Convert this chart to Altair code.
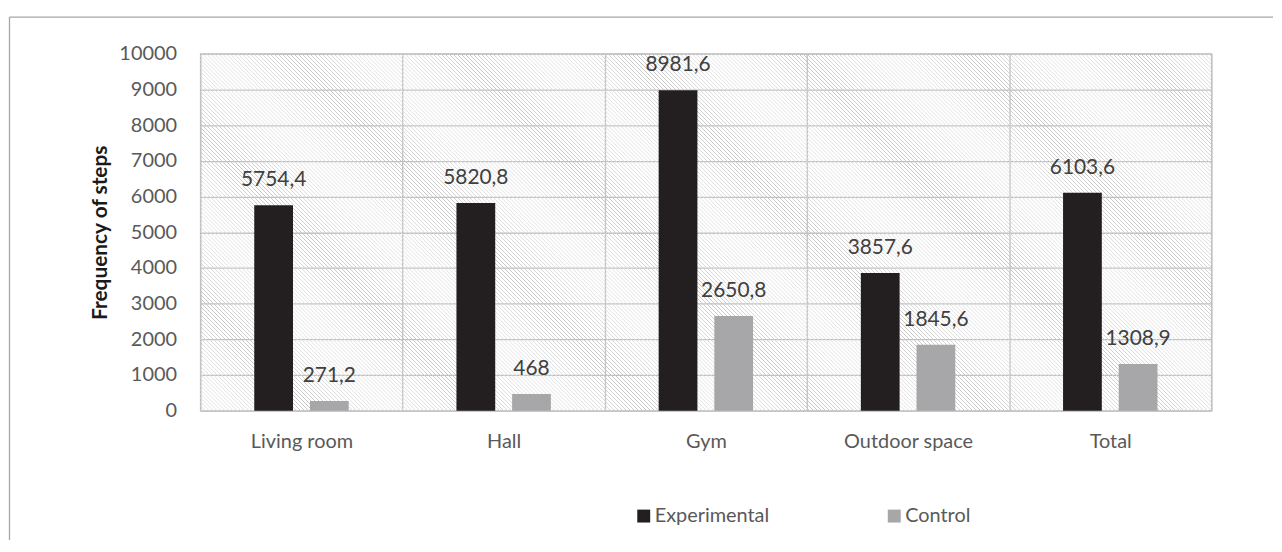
import altair as alt
import pandas as pd

categories = ["Living room", "Hall", "Gym", "Outdoor space", "Total"]
experimental = [5754.4, 5820.8, 8981.6, 3857.6, 6103.6]
control = [271.2, 468, 2650.8, 1845.6, 1308.9]
groups = ["Experimental", "Control"]
y_ticks = list(range(0, 10001, 1000))

W, H = 1017, 359

rows = []
for c, e, k in zip(categories, experimental, control):
    rows.append({"cat": c, "group": "Experimental", "value": e})
    rows.append({"cat": c, "group": "Control", "value": k})
df = pd.DataFrame(rows)
df["label"] = df["value"].map(lambda v: f"{v:g}".replace(".", ","))

# hatch pattern as a striped linear gradient ("\" diagonal lines), soft 1px stripes
T = W + H
kk = (W + H) / (W * W + H * H)
period = 4.0
stops = []
clear, gray = "rgba(255,255,255,0)", "#c6c6c6"
s = 0.0
while s + period <= T + 1e-9:
    stops += [alt.GradientStop(offset=round(s / T, 9), color=clear),
              alt.GradientStop(offset=round((s + 1.0) / T, 9), color=gray),
              alt.GradientStop(offset=round((s + 2.0) / T, 9), color=clear)]
    s += period
stops.append(alt.GradientStop(offset=1, color=clear))
grad = alt.LinearGradient(gradient="linear", x1=0, y1=1, x2=W * kk, y2=1 - H * kk, stops=stops)

one = pd.DataFrame({"a": [0]})
hatch = alt.Chart(one).mark_rect(fill=grad).encode(
    x=alt.value(0), x2=alt.value("width"), y=alt.value(0), y2=alt.value("height")
)

x_enc = alt.X("cat:N", sort=categories, title=None,
              scale=alt.Scale(paddingInner=0, paddingOuter=0),
              axis=alt.Axis(grid=True, tickBand="extent", ticks=False, domain=False,
                            labelAngle=0, labelFontSize=20, labelColor="#595959",
                            labelPadding=21, gridColor="#bfbfbf", gridWidth=1.3))
xoff = alt.XOffset("group:N", sort=groups,
                   scale=alt.Scale(domain=groups, paddingInner=0.3036, paddingOuter=0.968))
y_enc = alt.Y("value:Q", title="Frequency of steps",
              scale=alt.Scale(domain=[0, 10000], nice=False),
              axis=alt.Axis(values=y_ticks, format="d", ticks=False, domain=False,
                            labelOverlap=False,
                            labelFontSize=20, labelColor="#595959", labelPadding=24,
                            gridColor="#bfbfbf", gridWidth=1.3,
                            titleFontSize=21, titleFontWeight="bold", titleColor="#1a1a1a",
                            titlePadding=8))

base = alt.Chart(df)
bars = base.mark_bar().encode(
    x=x_enc, xOffset=xoff, y=y_enc,
    color=alt.Color("group:N", sort=groups,
                    scale=alt.Scale(domain=groups, range=["#231f20", "#a7a7a9"]),
                    legend=alt.Legend(title=None, orient="none", legendX=436, legendY=455,
                                      direction="horizontal", symbolType="square",
                                      symbolSize=169, symbolStrokeWidth=0,
                                      labelFontSize=20, labelColor="#595959",
                                      labelOffset=1, columnPadding=115)),
)
texts = base.mark_text(fontSize=21, color="#404040", baseline="middle", dy=-25).encode(
    x=x_enc, xOffset=xoff, y=y_enc, text="label:N",
)

border_left = alt.Chart(one).mark_rule(color="#a6a6a6", strokeWidth=1.3).encode(
    x=alt.value(-192), y=alt.value(-37), y2=alt.value(489)
)
border_top = alt.Chart(one).mark_rule(color="#a6a6a6", strokeWidth=1.3).encode(
    x=alt.value(-192), x2=alt.value(1079), y=alt.value(-37)
)

chart = alt.layer(hatch, bars, texts, border_left, border_top).properties(
    width=W, height=H,
    padding={"left": 0.5, "top": 6.5, "right": 0, "bottom": 0},
    background="white",
).configure(font="Lato").configure_view(stroke="#bfbfbf", strokeWidth=1.3)

chart.save("out.html", embed_options={"renderer": "svg", "actions": False})
